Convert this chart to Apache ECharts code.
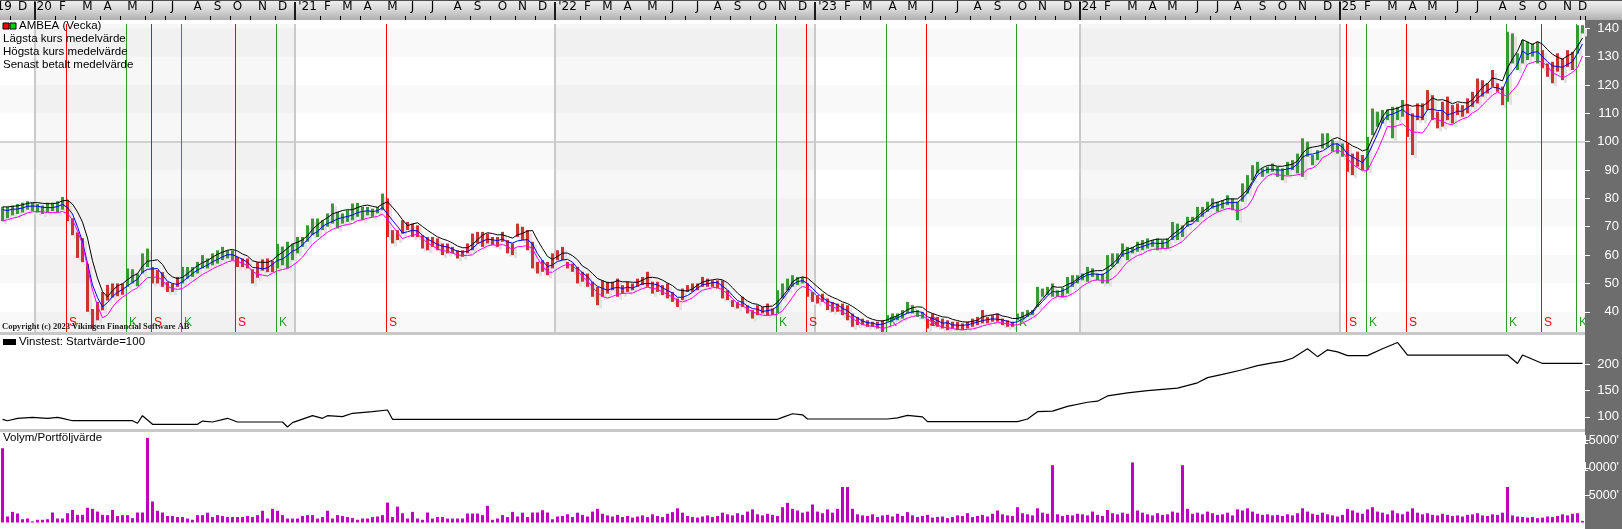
<!DOCTYPE html>
<html><head><meta charset="utf-8">
<script src="https://cdn.jsdelivr.net/npm/echarts@6/dist/echarts.min.js"></script>
<style>html,body{margin:0;padding:0;background:#fff}#c{width:1622px;height:529px}</style>
</head><body><div id="c"></div>
<script>
// ---------- DATA (weekly bars, Sunday week-ending, starting 2019-11-17) ----------
const firstWeek = '2019-11-17';
const lows = [
72,73,74,74.5,75,76,75.5,75,74.5,75,
75.5,75,76,72,67,59,57.5,40,34,37,
40.5,44,45,45.5,46,48.8,50,49,53.5,55.8,
50,50,48.8,47,47,48.8,50,51.7,52.3,53.5,
55.3,55.3,56.4,57,58.2,58.8,58.2,55.8,55.8,55.3,
50,52,54.5,54,54,55.3,56.4,55.3,58.2,60.6,
62.9,64.7,67,66.4,68.8,70,71.1,69.4,71.1,71.7,
72.3,73.5,72.3,74,73.5,74.7,75.8,66.4,64.1,65.3,
67.6,68.8,66.4,66.4,62.3,61.7,62.9,61.7,60,60.6,
60.6,58.8,59.4,60.6,61.7,64.1,62.9,64.1,63.5,62.9,
64.7,60.6,60,66.4,65.3,61.7,55.3,53.5,54.1,52.9,
55.3,58.2,58.2,55.3,54.1,50,50.6,48.8,45.3,42.3,
45.3,46.4,47.6,45.3,46.4,47,47.6,48.8,49.4,48.8,
46.4,47,45.9,44.7,43.5,41.7,44.1,47,47,47.6,
48.8,48.8,48.8,48.2,44.7,44.1,41.7,41.2,41.7,39.4,
37.6,38.8,39.4,38.8,38.8,39.4,44.7,47.6,48.8,49.4,
50,45.3,43.5,42.9,43.5,40.6,40,40,38.8,37,
34.7,35.3,35.3,34.7,34.7,34.1,32.9,36.5,37,37,
37.6,39.4,39.4,38.2,37.6,34.1,35.3,34.7,34.1,33.5,
34.1,33.5,33.5,34.1,34.7,35.3,35.9,35.9,36.5,36.5,
35.3,34.7,34.7,37,37.6,38.2,38.8,41.7,45.3,45.9,
45.3,45.3,45,46.4,48.8,50,51.1,50.6,52.3,51.1,
50,50,55.8,57,59.4,58.2,60.6,61.2,61.7,62.3,
62.9,61.7,62.3,62.3,65.3,65.3,66.4,70,71.7,71.7,
73.5,75.3,76.4,75.3,76.4,77.6,75.8,72.3,78.8,81.7,
86.4,88.8,87.6,88.8,89.4,87.6,86.4,88.2,90,88.8,
87.6,94.7,91.7,93.5,97.6,98,96.5,95.8,94.7,89.4,
88.2,91.2,90,90,102.3,105.3,106.4,107.6,101.2,107.6,
108.8,101.7,95.3,107.6,107.6,111.2,107.6,104.7,105.3,107.6,
106.4,109.4,108.8,110,112.3,113.5,115.9,117,119.4,117.6,
112.9,114.1,127.6,125.3,127.6,128.8,130,127.6,125.9,122.9,
120.6,124.7,121.7,126.4,125.3,131.1,138.2];
const highs = [
77,77,77.5,78,78.5,79,78.5,78,77.5,78.5,
78.5,79,80.5,79.5,73,68,66,57,41,43.5,
47,49.5,50,50,50,55.3,55,53.5,60.6,62.3,
55.8,54.7,54,50.5,50,52.3,55.8,55.8,55.8,57.6,
60,58.8,60.6,61.7,62.9,61.7,61.7,59.4,58.8,58.8,
55,57.5,58.5,58.8,58,64,63,64.7,64,66.4,
66.4,70.5,72.9,72.9,72.3,74.7,78.2,75.3,74.7,75.8,
78.2,78.4,77,77,76.4,77,81.7,80,68.8,68.8,
72.3,71.7,71.1,70.5,67,66.4,66.4,65.9,64.1,64.1,
62.9,61.7,61.7,64.1,67.6,68.2,68.2,67.6,66.4,66.4,
68.2,65.3,64.1,71.1,70,68.8,64.7,57.6,58.2,57.6,
60.6,61.7,62.9,57.6,57,55.8,54.1,53.5,50.6,48.8,
51.1,50.6,50.6,51.7,49.4,50.6,50,51.7,52.3,54.1,
50.6,50.6,49.4,50,47,44.7,48.2,49.4,50,50,
52.3,51.7,51.1,51.1,51.1,47.6,44.1,43.5,45.3,42.3,
40.6,42.3,41.7,42.9,41.2,47.6,50,51.7,52.9,52.3,
52.3,50,47,45.9,46.4,44.7,43.5,42.9,42.9,42.3,
39.4,38.2,37.6,37,36.5,36.5,37,38.8,39.4,39.4,
40.6,43.5,42.3,40.6,40,37.6,39.4,38.2,37.6,37,
36.5,36.5,35.9,36.5,37.6,38.2,40.6,38.2,38.8,39.4,
37.6,37,36.5,39.4,40,40.6,40.6,48.8,48.2,48.8,
50,47.6,48.5,52.3,52.9,52.9,53.5,55.8,55.3,53.5,
53.5,60,60.6,60.6,64.1,62.9,62.9,64.7,65.3,65.9,
65.3,65.9,65.3,65.9,71.7,71.1,70.5,73.5,73.5,77,
77,78.8,80,78.8,79.4,81.1,80,78.8,85.3,88.2,
91.7,92.9,90.6,91.2,92.3,91.2,90.6,92.9,93.5,95.8,
101.2,100,95.3,97,102.9,103,100.6,99.4,99.4,99.4,
95.8,96.5,95.3,101.7,111.7,110.6,111.2,111.4,112.3,112.3,
114.7,113,110,113.5,113.5,118.2,116.4,110.6,114.1,115.9,
112.9,113.5,112.9,115.3,117.6,122.3,121.7,120.6,125.3,120.6,
119.4,138.8,138.2,131.2,135.9,135.3,134.7,135.3,132.3,127.6,
128.2,131.2,129.4,132.3,131.7,141.1,141.1];
const closes = [
76,75.5,77,76.5,77.5,78,77,76.5,76,77.5,
77,78,79,73,68,60,58,42,38,42,
45,48,46.5,48,49,53,51.5,52.5,59,57,
52,53,50,48,49,51.5,54,53.5,55,56.5,
57.5,57,59.5,60,61,60,59.5,57,57.5,56,
52,56.5,56,57.5,57,62,58,62.5,63,65,
64,69.5,71,68.5,71.5,73.5,74,72,73.5,75,
76,75.5,75,76,75,76.5,79.5,67,66,68,
70,69,68,67,64,63.5,64.5,63,61.5,62.5,
61.5,60,60.5,63,66,66.5,64,66,65,65.5,
66,62,63.5,68.5,67,63,57,55,57,55,
59,60,59,56,55,51.5,52.5,50.5,47,46,
49.5,48,49.5,47.5,48,49.5,48.5,50.5,51,50,
48,49,47,46,44.5,43,47,48.5,49,49,
51.5,50,50.5,49.5,46,45,42.5,42.5,43,40,
39,41.5,40,41,40.5,46.5,49.5,50.5,51.5,51,
51,46.5,44.5,44,45,41.5,42,41.5,40,38,
36,37,36,35.5,35.5,35,36.5,38,38.5,38.5,
40,41,40.5,39,38.5,35,38,36,35,35.5,
35,35.5,35,36,37,37.5,37,37.5,38,37,
36,35.5,36,38.5,39.5,40,40.5,47.5,46.5,48,
46.5,47,48,51.5,52,52.5,52.5,55,53.5,52,
51.5,59.5,59,60,62.5,61.5,62,64,64.5,64,
64.5,63.5,64.5,65.5,70.5,68.5,70,73,72.5,76,
76,78,78,77.5,79,79.5,78,78,84.5,87.5,
91,90,89.5,90.5,91,89,89.5,92,92.5,94.5,
99,96,93,96.5,101.5,100.5,98,97,96.5,91,
94,93,92.5,101,109,108,110,110,111,111,
113.5,104,108,110,112,115,109,108,112,109,
111,111,112,114,116,119,118,119,121,118,
115,136,130,128,134,131,133,129,127,124,
127,128,126,128,131,139.5,139.5];
const volumes = [
13600,1100,1950,1650,600,730,200,500,500,600,
1830,730,730,1700,2300,1400,1400,2700,2500,2000,
1400,1350,2300,1200,1350,1350,800,1830,1830,15500,
3850,2150,1830,1200,1200,1000,1000,730,500,1350,
1350,1800,1000,1350,1200,1000,1000,1000,1000,1200,
1000,1350,2150,730,2500,2150,1350,730,730,730,
1200,1350,1350,730,1000,2150,730,1350,1200,1000,
800,500,730,730,1000,1100,1350,3650,1000,2900,
1700,730,1950,730,500,1830,730,1000,1000,730,
730,730,730,1650,1650,1650,1350,3050,500,730,
1350,1000,1950,1100,1800,1000,1830,1830,2250,1830,
600,1100,1200,1500,1000,1800,1400,1100,2000,2500,
1600,1300,1100,1400,1000,1200,900,1100,1300,1000,
1500,1200,1000,1600,1900,2600,1800,1200,1000,900,
1100,1300,1000,1200,1800,1500,1300,1700,1400,2000,
2400,1500,1300,1600,1400,1200,2800,3600,2500,2200,
1800,2000,3300,2000,1700,2400,1800,2500,6500,6500,
2500,1500,1300,1200,1500,1000,1300,1400,1100,1600,
1200,1900,1300,1000,1200,1400,900,1000,1100,800,
1000,1300,1200,1700,1000,1200,1400,1100,1600,2200,
1500,1300,1200,2800,1700,1500,1300,2600,1800,1600,
10500,1500,1200,1400,1300,1600,1500,1300,2000,1400,
1200,2300,1700,1500,1800,1600,11000,2200,1800,1500,
1300,1700,1400,1500,2000,1800,10500,2500,1600,1800,
1500,2000,1700,1400,1500,1800,1300,2400,2200,2600,
2000,1600,1400,1500,1300,1400,1200,1500,1300,1700,
2600,2000,1600,1400,1800,1500,1300,1100,1400,2500,
2200,1800,1600,2400,2800,2000,1800,1500,2200,1700,
1500,2000,2600,1800,1500,1700,1400,1300,1600,1400,
1200,1300,1100,1400,1500,1700,1300,1200,1500,1400,
1800,6500,1300,1100,1000,900,1000,800,900,1100,
1000,1200,1500,1300,1600,1700,300];
// Vinstest (equity curve) vertices: [week index, value]
const equityPoints = [[0,95.4],[1,92.7],[3,97.3],[6,99.2],[9,97.3],[11,99.2],[12,97.3],[14,92.7],[26,92.7],[27,87.8],[28,102.3],[30,85.9],[39,85.9],[40,92.1],[42,90.3],[45,97.3],[47,90.3],[56,90.3],[57,80.7],[58,89],[62,102.3],[64,97.3],[65,102.3],[68,100.4],[70,106.9],[74,109.9],[77,113.2],[78,95.4],[155,95.4],[156,99],[158,106],[160,104],[161,96],[177,96],[179,98],[181,103],[184,100],[185,91],[203,91],[205,96],[207,110],[210,111],[213,120],[217,128],[219,130],[221,140],[225,146],[229,150],[235,155],[239,165],[241,175],[244,181],[248,190],[251,198],[254,203],[256,206],[258,212],[261,230],[263,215],[265,228],[267,224],[269,217],[273,217],[276,230],[279,242],[281,218],[301,218],[303,202],[304,218],[308,202],[316,202]];
// Buy (K) / sell (S) signals: [week index, type]
const signals = [[13,'S'],[25,'K'],[30,'S'],[36,'K'],[47,'S'],[55,'K'],[77,'S'],[155,'K'],[161,'S'],[177,'K'],[185,'S'],[203,'K'],[269,'S'],[273,'K'],[281,'S'],[301,'K'],[308,'S'],[315,'K']];
const priceTicks = [40,50,60,70,80,90,100,110,120,130,140];
const equityTicks = [100,150,200];
const volumeTicks = [5000,10000,15000];
const shadedYears = ['2020','2022','2024'];
const priceBands = [[30,40],[50,60],[70,80],[90,100],[110,120],[130,140]];
const MA_PERIOD = 4;
const MONTH_LETTERS = ['J','F','M','A','M','J','J','A','S','O','N','D'];

// ---------- derived ----------
const weeks = [];
{ let t = Date.parse(firstWeek + 'T00:00:00Z');
  for (let i = 0; i < lows.length; i++) { weeks.push(new Date(t).toISOString().slice(0,10)); t += 7*86400000; } }
const monthStarts = new Set(), yearStarts = [], labelIdx = new Map();
{ let g = 0;
  for (let i = 1; i <= weeks.length; i++) {
    if (i === weeks.length || weeks[i].slice(0,7) !== weeks[i-1].slice(0,7)) {
      const a = g, b = i - 1;
      const li = a === 0 ? 0 : a + Math.floor((b - a) / 2);
      const y = weeks[a].slice(2,4), m = +weeks[a].slice(5,7);
      labelIdx.set(li, (m === 1 || a === 0) ? "'" + y : MONTH_LETTERS[m-1]);
      if (i < weeks.length) {
        monthStarts.add(i);
        if (weeks[i].slice(0,4) !== weeks[i-1].slice(0,4)) yearStarts.push(i);
      }
      g = i;
    }
  } }
const yearRanges = shadedYears.map(y => {
  let a = -1, b = -1;
  weeks.forEach((w, i) => { if (w.slice(0,4) === y) { if (a < 0) a = i; b = i; } });
  return [a, b];
});
function sma(arr, n) {
  return arr.map((_, i) => { const s = Math.max(0, i - n + 1); let t = 0; for (let j = s; j <= i; j++) t += arr[j]; return +(t / (i - s + 1)).toFixed(2); });
}
const sigMap = new Map(signals.map(s => [s[0], s[1]]));
let state = 1;
const barData = lows.map((lo, i) => { if (sigMap.has(i)) state = sigMap.get(i) === 'K' ? 1 : 0; return [i, lo, highs[i], closes[i], state]; });

const GREEN = '#3a983a', RED = '#cc3434';
const chart = echarts.init(document.getElementById('c'), null, {renderer:'canvas', width:1622, height:529});

const gridBase = {left:0, width:1585, containLabel:false, outerBoundsMode:'none'};
const option = {
  animation: false,
  backgroundColor: '#ffffff',
  grid: [
    Object.assign({top:24, height:308}, gridBase),
    Object.assign({top:335, height:94}, gridBase),
    Object.assign({top:432, height:95}, gridBase)
  ],
  xAxis: [
    {type:'category', gridIndex:0, data:weeks, position:'top', offset:4, boundaryGap:true, z:6,
     axisLine:{show:false},
     axisTick:{show:true, interval:(i)=>monthStarts.has(i) && !yearStarts.includes(i), length:4, lineStyle:{color:'#000', width:1}},
     axisLabel:{show:true, interval:(i)=>labelIdx.has(i), formatter:(v,i)=>labelIdx.get(i)||'', margin:7, color:'#000', fontSize:12, fontFamily:'DejaVu Sans', hideOverlap:false},
     splitLine:{show:false}},
    {type:'category', gridIndex:1, data:weeks, show:false, boundaryGap:true},
    {type:'category', gridIndex:2, data:weeks, show:false, boundaryGap:true}
  ],
  yAxis: [
    {type:'value', gridIndex:0, position:'right', min:32.87, max:141.52, z:6,
     axisLine:{show:false}, splitLine:{show:false},
     axisTick:{show:true, customValues:priceTicks, length:5, lineStyle:{color:'#fff'}},
     axisLabel:{customValues:priceTicks, color:'#fff', fontSize:13, fontFamily:'Liberation Sans', align:'right', margin:34}},
    {type:'value', gridIndex:1, position:'right', min:76.9, max:256.3, z:6,
     axisLine:{show:false}, splitLine:{show:false},
     axisTick:{show:true, customValues:equityTicks, length:5, lineStyle:{color:'#fff'}},
     axisLabel:{customValues:equityTicks, color:'#fff', fontSize:13, fontFamily:'Liberation Sans', align:'right', margin:34}},
    {type:'value', gridIndex:2, position:'right', min:-824, max:16575, z:6,
     axisLine:{show:false}, splitLine:{show:false},
     axisTick:{show:true, customValues:volumeTicks, length:5, lineStyle:{color:'#fff'}},
     axisLabel:{customValues:volumeTicks, formatter:(v)=>v+"'", color:'#fff', fontSize:12.5, fontFamily:'Liberation Sans', align:'right', margin:34}}
  ],
  series: [
    { // shaded years
      type:'custom', xAxisIndex:0, yAxisIndex:0, z:0, silent:true,
      data: yearRanges.map(r => [r[0], r[1]]),
      renderItem(params, api) {
        const cs = params.coordSys, bw = api.size([1,0])[0];
        const x0 = api.coord([api.value(0), 100])[0] - bw/2;
        const x1 = api.coord([api.value(1), 100])[0] + bw/2;
        return {type:'rect', shape:{x:x0, y:cs.y, width:x1-x0, height:cs.height}, style:{fill:'rgba(0,0,0,0.03)'}};
      }
    },
    { // horizontal bands + 100 line
      type:'custom', xAxisIndex:0, yAxisIndex:0, z:0, silent:true,
      data: priceBands,
      renderItem(params, api) {
        const cs = params.coordSys;
        const yA = api.coord([0, api.value(1)])[1], yB = api.coord([0, api.value(0)])[1];
        const shape = echarts.graphic.clipRectByRect({x:cs.x, y:yA, width:cs.width, height:yB-yA}, cs);
        if (!shape) return null;
        return {type:'rect', shape, style:{fill:'rgba(0,0,0,0.025)'}};
      },
      markLine:{silent:true, symbol:'none', label:{show:false}, animation:false, z:1,
        lineStyle:{color:'#c4c4c4', width:1.5, type:'solid'}, data:[{yAxis:100}]}
    },
    { // year dividers: header + price panel
      type:'custom', xAxisIndex:0, yAxisIndex:0, z:1, silent:true,
      data: yearStarts.map(i => [i, 100]),
      renderItem(params, api) {
        const cs = params.coordSys, bw = api.size([1,0])[0];
        const x = Math.round(api.coord([api.value(0), 100])[0] - bw/2);
        return {type:'group', children:[
          {type:'rect', shape:{x:x-1, y:2, width:2, height:18}, style:{fill:'#1a1a1a'}},
          {type:'rect', shape:{x:x-1, y:cs.y, width:2, height:cs.height}, style:{fill:'#cacaca'}}
        ]};
      }
    },
    { // bar shadows
      type:'custom', xAxisIndex:0, yAxisIndex:0, z:3, silent:true,
      data: barData,
      renderItem(params, api) {
        const pH = api.coord([api.value(0), api.value(2)]), pL = api.coord([api.value(0), api.value(1)]);
        return {type:'rect', shape:{x:pH[0]+1.5, y:pH[1]+3, width:3, height:Math.max(1, pL[1]-pH[1])}, style:{fill:'#e2e2e2'}};
      }
    },
    { // price bars
      type:'custom', xAxisIndex:0, yAxisIndex:0, z:3, silent:true,
      data: barData,
      renderItem(params, api) {
        const pH = api.coord([api.value(0), api.value(2)]), pL = api.coord([api.value(0), api.value(1)]);
        return {type:'rect', shape:{x:pH[0]-1.5, y:pH[1], width:3, height:Math.max(1, pL[1]-pH[1])}, style:{fill: api.value(4) ? GREEN : RED}};
      }
    },
    { // signal lines (K = buy, S = sell)
      type:'custom', xAxisIndex:0, yAxisIndex:0, z:3, silent:true,
      data: signals.map(s => [s[0], s[1] === 'K' ? 1 : 0]),
      renderItem(params, api) {
        const cs = params.coordSys;
        const x = Math.round(api.coord([api.value(0), 100])[0] - 2);
        const isK = api.value(1) === 1;
        const col = isK ? '#2e9a2e' : '#ff0000';
        return {type:'group', children:[
          {type:'rect', shape:{x:x, y:cs.y, width:1, height:cs.height}, style:{fill:col, stroke:null}},
          {type:'text', x:x+3, y:cs.y+cs.height-9, style:{text: isK ? 'K' : 'S', fill:col, font:'12px "Liberation Sans"', verticalAlign:'middle', align:'left'}}
        ]};
      }
    },
    {type:'line', name:'Högsta kurs medelvärde', xAxisIndex:0, yAxisIndex:0, z:4, data:sma(highs, MA_PERIOD), showSymbol:false, symbol:'none', silent:true, lineStyle:{color:'#000000', width:1}},
    {type:'line', name:'Senast betalt medelvärde', xAxisIndex:0, yAxisIndex:0, z:4, data:sma(closes, MA_PERIOD), showSymbol:false, symbol:'none', silent:true, lineStyle:{color:'#0000ff', width:1}},
    {type:'line', name:'Lägsta kurs medelvärde', xAxisIndex:0, yAxisIndex:0, z:4, data:sma(lows, MA_PERIOD), showSymbol:false, symbol:'none', silent:true, lineStyle:{color:'#ff00ff', width:1}},
    {type:'line', name:'Vinstest', xAxisIndex:1, yAxisIndex:1, z:4, data:equityPoints, showSymbol:false, symbol:'none', silent:true, lineStyle:{color:'#000', width:1.2}},
    {type:'bar', name:'Volym', xAxisIndex:2, yAxisIndex:2, data:volumes, barWidth:3, silent:true, itemStyle:{color:'#bf00bf'}}
  ],
  graphic: {elements: [
    {type:'rect', z:0, silent:true, shape:{x:0, y:0, width:1622, height:20},
     style:{fill:new echarts.graphic.LinearGradient(0,0,0,1,[{offset:0,color:'#f0f0f0'},{offset:0.5,color:'#d6d6d6'},{offset:1,color:'#b0b0b0'}])}},
    {type:'rect', z:0, silent:true, shape:{x:0, y:0, width:1622, height:1}, style:{fill:'#505050'}},
    {type:'rect', z:0, silent:true, shape:{x:1585, y:20, width:37, height:509}, style:{fill:'#6d6d6d'}},
    {type:'rect', z:5, silent:true, shape:{x:0, y:332, width:1585, height:3}, style:{fill:'#c8c8c8'}},
    {type:'rect', z:5, silent:true, shape:{x:0, y:429, width:1585, height:3}, style:{fill:'#c8c8c8'}},
    {type:'rect', z:10, silent:true, shape:{x:3, y:23, width:6, height:6}, style:{fill:'#ff0000', stroke:'#000', lineWidth:1}},
    {type:'rect', z:10, silent:true, shape:{x:10, y:23, width:6, height:6}, style:{fill:'#00d000', stroke:'#000', lineWidth:1}},
    {type:'text', z:10, silent:true, x:19, y:26, style:{text:'AMBEA (Vecka)', fill:'#000', font:'11.5px "Liberation Sans"', verticalAlign:'middle'}},
    {type:'text', z:10, silent:true, x:3, y:39, style:{text:'Lägsta kurs medelvärde', fill:'#000', font:'11.5px "Liberation Sans"', verticalAlign:'middle'}},
    {type:'text', z:10, silent:true, x:3, y:52, style:{text:'Högsta kurs medelvärde', fill:'#000', font:'11.5px "Liberation Sans"', verticalAlign:'middle'}},
    {type:'text', z:10, silent:true, x:3, y:65, style:{text:'Senast betalt medelvärde', fill:'#000', font:'11.5px "Liberation Sans"', verticalAlign:'middle'}},
    {type:'text', z:10, silent:true, x:2, y:327, style:{text:'Copyright (c) 2023 Vikingen Financial Software AB', fill:'#222', font:'bold 8.5px "Liberation Serif"', verticalAlign:'middle'}},
    {type:'rect', z:10, silent:true, shape:{x:3, y:339, width:13, height:6}, style:{fill:'#000'}},
    {type:'text', z:10, silent:true, x:19, y:342, style:{text:'Vinstest: Startvärde=100', fill:'#000', font:'11.5px "Liberation Sans"', verticalAlign:'middle'}},
    {type:'text', z:10, silent:true, x:3, y:438, style:{text:'Volym/Portföljvärde', fill:'#000', font:'11.5px "Liberation Sans"', verticalAlign:'middle'}}
  ]}
};
chart.setOption(option);
</script>
</body></html>
